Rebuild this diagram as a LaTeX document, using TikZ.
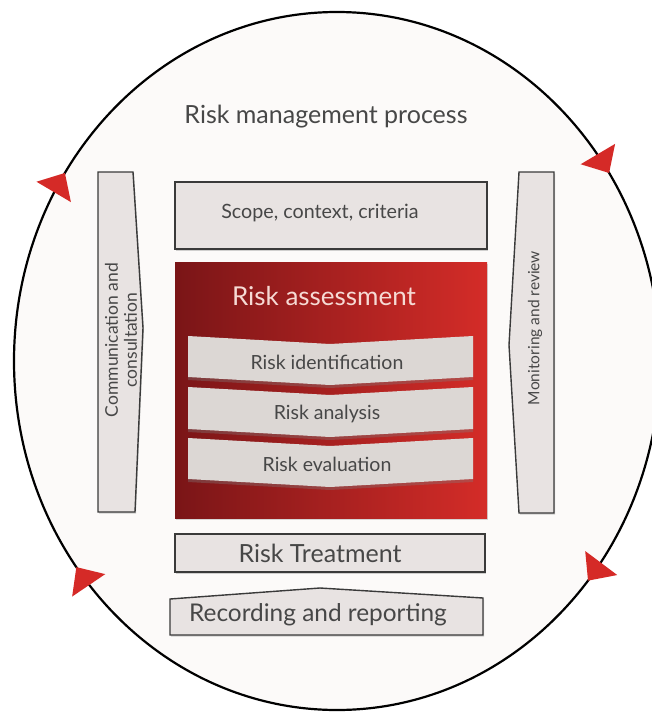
\documentclass[tikz,border=0pt]{standalone}
\usepackage{fontspec}
\setmainfont{Lato}
\usetikzlibrary{shadows}
\definecolor{inkgray}{HTML}{474747}
\definecolor{panelgray}{HTML}{E8E3E2}
\definecolor{edgegray}{HTML}{3A3A3A}
\definecolor{stepgray}{HTML}{DCD7D4}
\definecolor{darkred}{HTML}{7A1517}
\definecolor{brightred}{HTML}{D42C28}
\definecolor{tipred}{HTML}{D52A27}
\definecolor{softpink}{HTML}{F6DAD4}
\definecolor{paper}{HTML}{FCFAF9}
\tikzset{
  panel/.style={fill=panelgray, draw=edgegray, line width=1.4pt,
    drop shadow={shadow xshift=1pt, shadow yshift=-1.5pt, opacity=0.35}},
  stepbar/.style={fill=stepgray, draw=none,
    drop shadow={shadow xshift=0pt, shadow yshift=-3pt, opacity=0.35}},
  txt/.style={text=inkgray, inner sep=0pt},
}
\begin{document}
\begin{tikzpicture}[x=1pt,y=-1pt]
	\useasboundingbox (0,0) rectangle (652,712);
	\fill[white] (0,0) rectangle (652,712);

	\draw[fill=paper, line width=2.2pt] (337,361) ellipse [x radius=323, y radius=349];
	\foreach \t in {212.6,327.4,39,143.8}{
	    \pgfmathsetmacro\px{337+323*cos(\t)}
	    \pgfmathsetmacro\py{361+349*sin(\t)}
	    \pgfmathsetmacro\len{veclen(323*sin(\t),349*cos(\t))}
	    \pgfmathsetmacro\ux{-323*sin(\t)/\len}
	    \pgfmathsetmacro\uy{349*cos(\t)/\len}
	    \fill[tipred] (\px,\py) -- ++({-22*\ux+20*\uy},{-22*\uy-20*\ux}) -- ++({-40*\uy},{40*\ux}) -- cycle;
	}

	\node[txt, font=\fontsize{25}{29}\selectfont] (title) at (326,117) {Risk management process};

	\draw[panel] (98,172) -- (133,172) -- (143,328) -- (135,512) -- (98,512) -- cycle;
	\node[txt, rotate=90, align=center, font=\fontsize{17.5}{19}\selectfont] (comm) at (121,340) {Communication and\\consultation};
	\draw[panel] (519,172) -- (554,172) -- (554,513) -- (519,513) -- (509,345) -- cycle;
	\node[txt, rotate=90, font=\fontsize{15.5}{18}\selectfont] (monitor) at (535,328) {Monitoring and review};

	\draw[panel] (175,182) rectangle (487,249);
	\node[txt, font=\fontsize{19.7}{23}\selectfont] (scope) at (320,213) {Scope, context, criteria};

	\shade[left color=darkred, right color=brightred,
	    drop shadow={shadow xshift=1pt, shadow yshift=-2pt, opacity=0.3}] (175,262) rectangle (487,518);
	\node[txt, text=softpink, font=\fontsize{26}{30}\selectfont] (assess) at (324,296) {Risk assessment};
	\foreach \ya/\yb/\name/\word in {336/377/ident/Risk identification,387/429/analysis/Risk analysis,438/479/evaluation/Risk evaluation}{
	    \draw[stepbar] (188,\ya) -- (330,\ya+8) -- (473,\ya) -- (473,\yb) -- (330,\yb+8) -- (188,\yb) -- cycle;
	    \node[txt, font=\fontsize{19.5}{22}\selectfont] (\name) at (327,{(\ya+\yb)/2+6}) {\word};
	}

	\draw[panel] (175,534) rectangle (485,572);
	\node[txt, font=\fontsize{25}{29}\selectfont] (treat) at (320,553) {Risk Treatment};
	\draw[panel] (170,599) -- (320,588) -- (483,598) -- (483,635) -- (170,635) -- cycle;
	\node[txt, font=\fontsize{24.4}{28}\selectfont] (record) at (318,615) {Recording and reporting};
\end{tikzpicture}
\end{document}
